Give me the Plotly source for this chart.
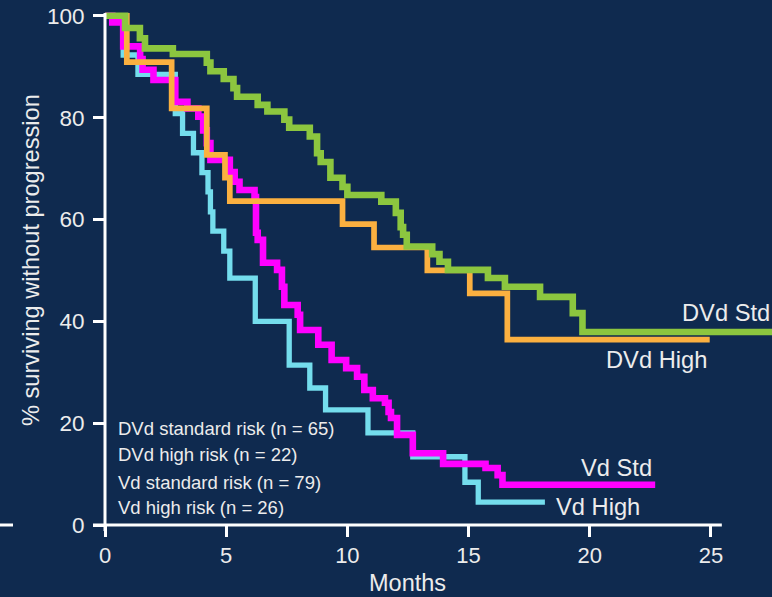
import plotly.graph_objects as go

# ---------------- data ----------------
dvd_std_t = [0, 0.83, 1.44, 1.65, 2.8, 4.2, 4.35, 4.9, 5.3, 5.45, 6.3, 6.7, 7.4, 7.6, 8.45,
             8.75, 8.9, 9.3, 9.8, 10.0, 11.4, 12.0, 12.2, 12.3, 12.45, 13.5, 13.8, 14.15,
             15.8, 16.5, 17.95, 19.3, 19.7, 27.6]
dvd_std_s = [100, 97.6, 95.6, 93.6, 92.5, 90.8, 89.1, 87.6, 85.8, 84.1, 82.5, 81.2, 79.6, 78.0, 76.3,
             73.0, 71.3, 68.2, 66.4, 64.8, 63.5, 61.3, 58.5, 57.0, 54.7, 53.2, 51.7, 50.1,
             48.5, 46.8, 44.8, 41.6, 37.9, 37.9]

dvd_high_t = [0, 0.9, 2.75, 4.2, 4.95, 5.15, 9.8, 11.1, 13.3, 15.05, 16.6, 24.95]
dvd_high_s = [100, 90.9, 81.8, 72.7, 68.2, 63.6, 59.1, 54.5, 50.0, 45.5, 36.4, 36.4]

vd_std_t = [0, 0.3, 0.75, 1.45, 1.55, 2.0, 2.9, 3.4, 3.85, 4.05, 4.2, 4.35, 5.15, 5.35, 5.55,
            6.17, 6.23, 6.3, 6.52, 7.1, 7.3, 7.4, 7.95, 8.05, 8.8, 9.35, 9.95, 10.4, 10.7,
            11.05, 11.55, 11.7, 11.8, 12.05, 12.7, 13.95, 15.7, 16.2, 16.4, 22.7]
vd_std_s = [100, 98.7, 94.0, 91.5, 89.4, 87.4, 83.1, 81.8, 80.2, 77.5, 75.0, 71.7, 69.3, 67.4, 65.8,
            64.4, 57.4, 56.0, 51.5, 50.1, 46.8, 43.2, 41.3, 38.3, 35.4, 32.4, 30.8, 29.1, 26.5,
            24.9, 24.0, 22.2, 21.0, 17.7, 14.1, 12.0, 11.2, 9.8, 7.9, 7.9]

vd_high_t = [0, 0.75, 1.36, 2.9, 3.2, 3.65, 4.0, 4.25, 4.35, 4.45, 4.9, 5.15, 6.2, 7.6, 8.45,
             9.1, 10.85, 12.7, 14.85, 15.4, 18.15]
vd_high_s = [100, 92.3, 88.5, 80.8, 76.9, 73.1, 69.2, 65.4, 61.5, 57.7, 53.8, 48.5, 40.0, 31.4, 26.9,
             22.6, 18.1, 13.4, 8.4, 4.5, 4.5]

x_ticks = [0, 5, 10, 15, 20, 25]
y_ticks = [0, 20, 40, 60, 80, 100]

legend_lines = ["DVd standard risk (n = 65)", "DVd high risk (n = 22)",
                "Vd standard risk (n = 79)", "Vd high risk (n = 26)"]
curve_labels = ["DVd Std", "DVd High", "Vd Std", "Vd High"]

# ---------------- style ----------------
BG = "#0f2a4f"
FONT = "Arial, Liberation Sans, sans-serif"
TXT = "#ececec"
XMAX = 27.52
YMAX = 103.1

fig = go.Figure()
series = [
    (vd_high_t, vd_high_s, "#74dded", 5.3),
    (vd_std_t, vd_std_s, "#ff00ff", 6.6),
    (dvd_high_t, dvd_high_s, "#fbb040", 5.7),
    (dvd_std_t, dvd_std_s, "#8cc63f", 6.6),
]
for t, s, c, w in series:
    fig.add_trace(go.Scatter(x=t, y=s, mode="lines", line=dict(shape="hv", color=c, width=w),
                             hoverinfo="skip", showlegend=False))

annotations = []
leg_y = [18.9, 13.9, 8.3, 3.5]
for txt, yy in zip(legend_lines, leg_y):
    annotations.append(dict(x=0.45, y=yy, xref="x", yref="y", text=txt, showarrow=False,
                            xanchor="left", yanchor="middle",
                            font=dict(family=FONT, size=18.5, color=TXT)))
lab_pos = [(XMAX, 41.7), (24.92, 32.4), (22.65, 11.2), (22.15, 3.5)]
for txt, (xx, yy) in zip(curve_labels, lab_pos):
    annotations.append(dict(x=xx, y=yy, xref="x", yref="y", text=txt, showarrow=False,
                            xanchor="right", yanchor="middle",
                            font=dict(family=FONT, size=23.7, color=TXT)))
# axis titles
annotations.append(dict(x=12.5, y=-58 / 525, xref="x", yref="paper", text="Months", showarrow=False,
                        xanchor="center", yanchor="middle",
                        font=dict(family=FONT, size=23.5, color=TXT)))
annotations.append(dict(x=-74 / 667, y=(525 - 260) / 525, xref="paper", yref="paper",
                        text="% surviving without progression", showarrow=False, textangle=-90,
                        xanchor="center", yanchor="middle",
                        font=dict(family=FONT, size=23.6, color=TXT)))

shapes = [
    dict(type="line", xref="paper", yref="paper", x0=-12 / 667, x1=25.45 / XMAX, y0=0, y1=0,
         line=dict(color="white", width=3)),
    dict(type="line", xref="paper", yref="paper", x0=0, x1=0, y0=-6 / 525, y1=(525 - 13) / 525,
         line=dict(color="white", width=3)),
    dict(type="line", xref="paper", yref="paper", x0=-105 / 667, x1=-92 / 667, y0=0, y1=0,
         line=dict(color="white", width=3)),
]

fig.update_layout(
    width=772, height=597,
    margin=dict(l=105, r=0, t=0, b=72),
    paper_bgcolor=BG, plot_bgcolor=BG,
    font=dict(family=FONT, color=TXT),
    annotations=annotations, shapes=shapes,
    xaxis=dict(range=[0, XMAX], tickvals=x_ticks, ticktext=[str(v) for v in x_ticks],
               showgrid=False, zeroline=False, showline=False,
               ticks="outside", ticklen=11, tickwidth=3, tickcolor="white",
               tickfont=dict(family=FONT, size=22, color=TXT)),
    yaxis=dict(range=[0, YMAX], tickvals=y_ticks, ticktext=[str(v) for v in y_ticks],
               showgrid=False, zeroline=False, showline=False,
               ticks="outside", ticklen=11, tickwidth=3, tickcolor="white",
               ticklabelstandoff=4,
               tickfont=dict(family=FONT, size=22.5, color=TXT)),
)

fig.write_html("out.html")
